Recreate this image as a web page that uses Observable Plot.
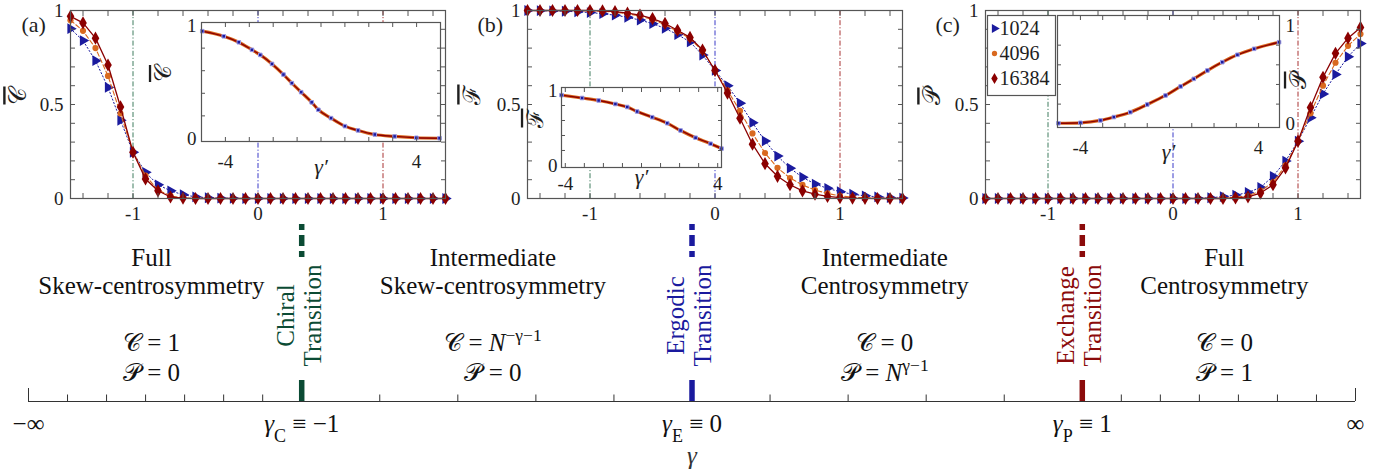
<!DOCTYPE html>
<html>
<head>
<meta charset="utf-8">
<script src="https://cdn.jsdelivr.net/npm/d3@7"></script>
<script src="https://cdn.jsdelivr.net/npm/@observablehq/plot@0.6"></script>
<style>
  html, body { margin: 0; padding: 0; background: #fff; }
  #fig { position: relative; width: 1385px; height: 473px; overflow: hidden; background: #fff; }
  #fig > svg { position: absolute; overflow: visible; max-width: none; }
  #fig svg, #fig svg text { font-family: "Liberation Serif", "DejaVu Serif", serif !important; }
</style>
</head>
<body>
<div id="fig"></div>
<script>
// ---------------- data ----------------
const gamma = [-1.5,-1.4,-1.3,-1.2,-1.1,-1.0,-0.9,-0.8,-0.7,-0.6,-0.5,-0.4,-0.3,-0.2,-0.1,0,0.1,0.2,0.3,0.4,0.5,0.6,0.7,0.8,0.9,1.0,1.1,1.2,1.3,1.4,1.5];
const sizes = ["1024", "4096", "16384"];

const C_1024  = [0.903,0.840,0.733,0.591,0.416,0.246,0.139,0.073,0.041,0.020,0.009,0.004,0.002,0.001,0,0,0,0,0,0,0,0,0,0,0,0,0,0,0,0,0];
const C_4096  = [0.948,0.892,0.800,0.652,0.452,0.246,0.122,0.045,0.014,0.003,0.001,0,0,0,0,0,0,0,0,0,0,0,0,0,0,0,0,0,0,0,0];
const C_16384 = [0.969,0.934,0.853,0.710,0.487,0.246,0.104,0.041,0.008,0.002,0,0,0,0,0,0,0,0,0,0,0,0,0,0,0,0,0,0,0,0,0];

const F_1024  = [1.0,0.999,0.998,0.996,0.993,0.989,0.983,0.975,0.964,0.949,0.930,0.905,0.872,0.833,0.763,0.681,0.600,0.507,0.403,0.306,0.226,0.161,0.113,0.077,0.054,0.036,0.023,0.014,0.009,0.005,0.002];
const F_4096  = [1,1,1,1,1,0.999,0.996,0.991,0.983,0.970,0.952,0.925,0.888,0.851,0.785,0.681,0.575,0.466,0.346,0.242,0.163,0.109,0.072,0.045,0.027,0.014,0.007,0.004,0.002,0.001,0];
const F_16384 = [1,1,1,1,1,1,0.998,0.994,0.986,0.975,0.957,0.931,0.895,0.857,0.790,0.681,0.561,0.427,0.289,0.185,0.118,0.073,0.041,0.023,0.011,0.005,0.002,0.001,0,0,0];

const P_1024  = [0,0,0,0,0,0,0,0,0,0,0,0,0,0,0,0,0,0.001,0.004,0.010,0.018,0.032,0.059,0.118,0.199,0.305,0.430,0.556,0.660,0.754,0.824];
const P_4096  = [0,0,0,0,0,0,0,0,0,0,0,0,0,0,0,0,0,0,0,0.002,0.006,0.014,0.041,0.086,0.176,0.305,0.453,0.600,0.722,0.812,0.875];
const P_16384 = [0,0,0,0,0,0,0,0,0,0,0,0,0,0,0,0,0,0,0,0,0.003,0.009,0.029,0.073,0.163,0.305,0.484,0.645,0.772,0.853,0.910];

// scaling-collapse insets (gamma', value)
const insetC_gp  = [-4.97,-4.07,-3.44,-2.89,-2.54,-2.05,-1.57,-1.22,-0.83,-0.39,-0.11,0.42,1.0,1.55,2.25,3.08,3.99,4.96];
const insetC_val = [0.95,0.905,0.852,0.785,0.74,0.66,0.566,0.49,0.41,0.32,0.254,0.18,0.109,0.071,0.035,0.018,0.006,0.002];
const insetF_gp  = [-4.2,-3.12,-2.25,-1.37,-0.75,-0.23,0.56,1.35,2.05,2.84,3.63,4.2];
const insetF_val = [0.938,0.90,0.867,0.82,0.78,0.72,0.644,0.564,0.467,0.37,0.29,0.225];
const insetP_gp  = [-4.99,-4.0,-3.1,-2.5,-1.76,-1.0,-0.18,0.5,1.09,1.7,2.37,3.05,3.8,4.92];
const insetP_val = [0.005,0.01,0.034,0.068,0.118,0.196,0.288,0.38,0.457,0.542,0.627,0.702,0.763,0.83];

// ticks
const mainXTicks = [-1, 0, 1];
const mainYTicks = [0, 0.5, 1];
const mainXMinor = [-1.4,-1.2,-1,-0.8,-0.6,-0.4,-0.2,0,0.2,0.4,0.6,0.8,1,1.2,1.4];
const mainYMinor = [0.1,0.2,0.3,0.4,0.5,0.6,0.7,0.8,0.9];
const insetXTicks = [-4, 4];
const insetYTicks = [0, 1];
const insetXMinor = [-4,-3,-2,-1,0,1,2,3,4];
const insetYMinor = [0.2,0.4,0.6,0.8];

// phase diagram
const transitions = [{name: "Chiral", g: -1}, {name: "Ergodic", g: 0}, {name: "Exchange", g: 1}];
const regionTitles = ["Full\nSkew-centrosymmetry", "Intermediate\nSkew-centrosymmetry", "Intermediate\nCentrosymmetry", "Full\nCentrosymmetry"];
const regionFormulas = ["𝒞 = 1\n𝒫 = 0", "𝒞 = *{N}^{−γ−1}\n𝒫 = 0", "𝒞 = 0\n𝒫 = *{N}^{γ−1}", "𝒞 = 0\n𝒫 = 1"];
const phaseTickValues = [-1.7, -1, 0, 1, 1.7];
const phaseTickLabels = ["−∞", "*{γ}_{C} ≡ −1", "*{γ}_{E} ≡ 0", "*{γ}_{P} ≡ 1", "∞"];
const phaseMinorTicks = [-1.6,-1.5,-1.4,-1.3,-1.2,-1.1,-0.8,-0.6,-0.4,-0.2,0.2,0.4,0.6,0.8,1.1,1.2,1.3,1.4,1.5,1.6];
const phaseEndTicks = [-1.7, 1.7];

// ---------------- layout & style ----------------
const regionX = [-1.385, -0.51, 0.494, 1.364];
const FONT = "'Liberation Serif', 'DejaVu Serif', serif";
const INK = "#1e1e1e";
const AX = "#555";
const seriesStyle = {
  "1024":  {color: "#1b1b9e", symbol: "triangle", rotate: 90, r: 4.0, dash: "1.3,2.3", width: 1},
  "4096":  {color: "#d9691f", symbol: "circle",   rotate: 0,  r: 3.1, dash: "4.5,2.5", width: 1.1},
  "16384": {color: "#8b0000", symbol: "diamond",  rotate: 0,  r: 4.0, dash: null,      width: 1.3}
};
const refColor = {Chiral: "#3f7d5e", Ergodic: "#3a3ac8", Exchange: "#a83232"};
const transColor = {Chiral: "#0b4b34", Ergodic: "#1a1a9e", Exchange: "#8b0b0b"};

const fig = document.getElementById("fig");

function richify(root) {
  root.querySelectorAll("text, tspan").forEach(el => {
    if (el.children.length) return;
    const s = el.textContent;
    if (!/[\^_~*]\{/.test(s)) return;
    el.textContent = "";
    const re = /([\^_~*])\{([^}]*)\}/g;
    let last = 0, m;
    const add = (txt, kind) => {
      const t = document.createElementNS("http://www.w3.org/2000/svg", "tspan");
      t.textContent = txt;
      if (kind === "^") { t.setAttribute("baseline-shift", "super"); t.setAttribute("font-size", "70%"); }
      if (kind === "_") { t.setAttribute("baseline-shift", "sub"); t.setAttribute("font-size", "72%"); }
      if (kind === "~") { t.setAttribute("text-decoration", "overline"); t.style.textDecoration = "overline"; }
      if (kind === "*") { t.setAttribute("font-style", "italic"); }
      el.appendChild(t);
    };
    while ((m = re.exec(s))) {
      if (m.index > last) add(s.slice(last, m.index));
      add(m[2], m[1]);
      last = re.lastIndex;
    }
    if (last < s.length) add(s.slice(last));
  });
}
function place(svg, left, top) {
  svg.style.left = left + "px";
  svg.style.top = top + "px";
  fig.appendChild(svg);
  richify(svg);
}
function baseStyle(size) {
  return {fontFamily: FONT, fontSize: size + "px", background: "transparent", overflow: "visible", color: INK};
}
const fmtHyphen = d => (d < 0 ? "-" : "") + Math.abs(d);

function inwardTicks(xt, yt, size) {
  return [
    Plot.axisX(xt, {anchor: "bottom", tickSize: -size, fill: "none", label: null, stroke: AX}),
    Plot.axisX(xt, {anchor: "top", tickSize: -size, fill: "none", label: null, stroke: AX}),
    Plot.axisY(yt, {anchor: "left", tickSize: -size, fill: "none", label: null, stroke: AX}),
    Plot.axisY(yt, {anchor: "right", tickSize: -size, fill: "none", label: null, stroke: AX})
  ];
}

function seriesMarks(rows) {
  const m = [];
  for (const s of sizes) {
    const st = seriesStyle[s];
    const d = rows.filter(r => r.size === s);
    m.push(Plot.line(d, {x: "g", y: "v", stroke: st.color, strokeWidth: st.width, strokeDasharray: st.dash || undefined}));
    m.push(Plot.dot(d, {x: "g", y: "v", symbol: st.symbol, r: st.r, fill: st.color, stroke: "none", rotate: st.rotate}));
  }
  return m;
}

function mainPanel(vals, o) {
  const rows = sizes.flatMap(s => gamma.map((g, i) => ({size: s, g, v: vals[s][i]})));
  return Plot.plot({
    width: o.mL + 375 + o.mR, height: 230,
    marginLeft: o.mL, marginRight: o.mR, marginTop: 10, marginBottom: 32,
    style: baseStyle(19),
    x: {domain: [-1.5, 1.5]},
    y: {domain: [0, 1]},
    marks: [
      Plot.ruleX(transitions, {x: "g", stroke: d => refColor[d.name], strokeWidth: 1, strokeDasharray: "5,2,1.2,2"}),
      ...seriesMarks(rows),
      Plot.frame({stroke: AX, strokeWidth: 1.2}),
      ...inwardTicks(mainXMinor, mainYMinor, 5),
      Plot.axisX(mainXTicks, {anchor: "bottom", tickSize: 0, tickPadding: 8, tickFormat: fmtHyphen, label: null, fill: INK}),
      Plot.axisY(mainYTicks, {anchor: "left", tickSize: 0, tickPadding: 7, tickFormat: d => String(d), label: null, fill: INK}),
      Plot.text([o.ylab], {text: d => d, frameAnchor: "left", dx: o.ylabDx, rotate: -90, fontSize: 24, fill: INK}),
      Plot.text([o.tag], {text: d => d, frameAnchor: "top-left", dx: o.tagDx, dy: 6, fontSize: 22, fill: INK})
    ]
  });
}

function insetPanel(gp, val, o) {
  const rows = gp.map((g, i) => ({g, v: val[i]}));
  return Plot.plot({
    width: o.width, height: o.height,
    marginLeft: o.mL, marginRight: o.mR, marginTop: o.mT, marginBottom: o.mB,
    style: baseStyle(19),
    x: {domain: o.xdom},
    y: {domain: o.ydom},
    marks: [
      Plot.frame({fill: "white", stroke: "none"}),
      Plot.line(rows, {x: "g", y: "v", stroke: seriesStyle["4096"].color, strokeWidth: 3.2, curve: "monotone-x"}),
      Plot.line(rows, {x: "g", y: "v", stroke: seriesStyle["16384"].color, strokeWidth: 1.4, curve: "monotone-x"}),
      Plot.dot(rows, {x: "g", y: "v", symbol: "square", r: 2, fill: seriesStyle["1024"].color, stroke: "#9a9ae6", strokeWidth: 1}),
      Plot.frame({stroke: AX, strokeWidth: 1.2}),
      ...inwardTicks(insetXMinor, insetYMinor, 4),
      Plot.axisX(insetXTicks, {anchor: "bottom", tickSize: 0, tickPadding: o.xPad, tickFormat: fmtHyphen, label: null, fill: INK}),
      Plot.axisY(insetYTicks, {anchor: o.yAnchor, tickSize: 0, tickPadding: o.yPad, tickFormat: d => String(d), label: null, fill: INK}),
      Plot.text(["γ′"], {text: d => d, frameAnchor: "bottom", dy: o.gDy, fontSize: 22, fontStyle: "italic", fill: INK}),
      Plot.text([o.ylab], {text: d => d, frameAnchor: o.yAnchor, dx: o.ylabDx, rotate: -90, fontSize: 23, fill: INK})
    ]
  });
}

function legendPlot() {
  return Plot.plot({
    width: 68, height: 80, margin: 0,
    style: baseStyle(20),
    x: {domain: [0, 1], axis: null},
    y: {type: "point", domain: sizes, range: [13, 63], padding: 0, axis: null},
    marks: [
      Plot.frame({fill: "white", stroke: AX, strokeWidth: 1.2}),
      ...sizes.map(s => Plot.dot([s], {y: d => d, frameAnchor: "left", dx: 7, symbol: seriesStyle[s].symbol,
        r: seriesStyle[s].r * 0.85, fill: seriesStyle[s].color, stroke: "none", rotate: seriesStyle[s].rotate})),
      Plot.text(sizes, {y: d => d, text: d => d, frameAnchor: "left", dx: 12, textAnchor: "start", fontSize: 20, fill: INK})
    ]
  });
}

function phasePlot() {
  const transRows = transitions.map(t => ({...t, color: transColor[t.name]}));
  const regionRows = regionTitles.map((t, i) => ({x: regionX[i], title: t, formula: regionFormulas[i]}));
  const tickRows = phaseTickValues.map((x, i) => ({x, label: phaseTickLabels[i]}));
  return Plot.plot({
    width: 1385, height: 258,
    marginLeft: 28, marginRight: 30, marginTop: 0, marginBottom: 72,
    style: baseStyle(25),
    x: {domain: [-1.7, 1.7], axis: null},
    y: {domain: [0, 186], axis: null},
    marks: [
      Plot.ruleY([0], {stroke: "#333", strokeWidth: 1.1}),
      Plot.ruleX(phaseMinorTicks, {x: d => d, y1: 0, y2: 6.5, stroke: "#333", strokeWidth: 1}),
      Plot.ruleX(phaseEndTicks, {x: d => d, y1: 0, y2: 13, stroke: "#333", strokeWidth: 1}),
      Plot.ruleX(transRows, {x: "g", y1: 0, y2: 21, stroke: "color", strokeWidth: 5.5}),
      Plot.ruleX(transRows, {x: "g", y1: 144, y2: 177, stroke: "color", strokeWidth: 5.5, strokeDasharray: "6,5,11,5,6"}),
      Plot.text(transRows, {x: "g", y: 86, dx: 19, text: d => d.name + "\nTransition", rotate: -90,
        lineAnchor: "bottom", lineHeight: 1.08, fontSize: 25, fill: "color"}),
      Plot.text(regionRows, {x: "x", y: 108, text: "title", lineAnchor: "bottom", lineHeight: 28 / 25, fontSize: 25, fill: "#111"}),
      Plot.text(regionRows, {x: "x", y: 21, text: "formula", lineAnchor: "bottom", lineHeight: 30 / 25, fontSize: 25, fill: "#111"}),
      Plot.text(tickRows, {x: "x", y: -30, text: "label", lineAnchor: "bottom", fontSize: 25, fill: "#111"}),
      Plot.text(["γ"], {x: 0, y: -62, text: d => d, lineAnchor: "bottom", fontSize: 25, fontStyle: "italic", fill: "#333"})
    ]
  });
}

// ---------------- draw ----------------
place(mainPanel({"1024": C_1024, "4096": C_4096, "16384": C_16384},
  {mL: 70, mR: 15, ylab: "~{𝒞}", ylabDx: -52, tag: "(a)", tagDx: -49}), 0, 0);
place(mainPanel({"1024": F_1024, "4096": F_4096, "16384": F_16384},
  {mL: 67, mR: 18, ylab: "~{ℱ}", ylabDx: -55, tag: "(b)", tagDx: -50}), 460, 0);
place(mainPanel({"1024": P_1024, "4096": P_4096, "16384": P_16384},
  {mL: 65, mR: 20, ylab: "~{𝒫}", ylabDx: -53, tag: "(c)", tagDx: -50}), 920, 0);

place(insetPanel(insetC_gp, insetC_val, {width: 300, height: 170, mL: 51, mR: 10, mT: 7, mB: 44,
  xdom: [-5, 5], ydom: [-0.027, 1.027], xPad: 13, yAnchor: "left", yPad: 5, gDy: 32, ylab: "~{𝒞}", ylabDx: -38}), 150, 15);
place(insetPanel(insetF_gp, insetF_val, {width: 210, height: 115, mL: 41, mR: 9, mT: 7, mB: 28,
  xdom: [-4.2, 4.2], ydom: [-0.027, 1.04], xPad: 9, yAnchor: "left", yPad: 4, gDy: 16, ylab: "~{ℱ}", ylabDx: -26}), 520, 80);
place(insetPanel(insetP_gp, insetP_val, {width: 270, height: 165, mL: 12, mR: 36, mT: 10, mB: 43,
  xdom: [-5.03, 4.94], ydom: [-0.038, 1.102], xPad: 12.5, yAnchor: "right", yPad: 6, gDy: 31, ylab: "~{𝒫}", ylabDx: 19}), 1045, 5);

place(legendPlot(), 987, 15);
place(phasePlot(), 0, 215);
</script>
</body>
</html>
